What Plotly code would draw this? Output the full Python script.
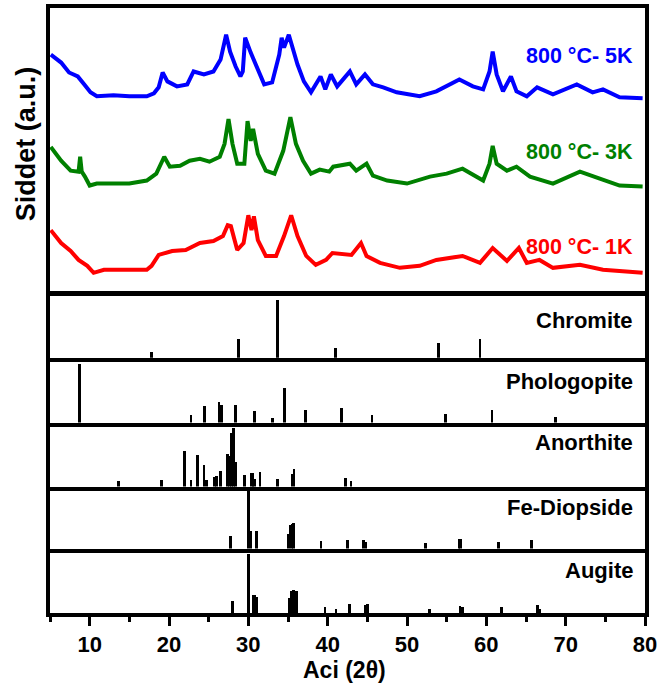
import plotly.graph_objects as go

# ---------------- XRD patterns (arbitrary units) ----------------
blue_x = [5.1, 6.4, 7.4, 8.5, 9.3, 10.1, 10.9, 13.0, 15.0, 17.2, 18.1, 18.7, 19.2, 19.8, 21.0, 22.3, 23.1,
          24.4, 25.6, 26.5, 27.2, 27.7, 28.4, 29.0, 29.3, 29.6, 30.3, 30.9, 32.0, 33.0, 33.9, 34.2, 34.5,
          35.1, 35.6, 36.2, 37.0, 37.9, 39.1, 39.7, 40.4, 41.2, 42.8, 43.6, 44.7, 45.7, 47.0, 48.7, 51.6,
          53.7, 56.6, 58.3, 59.6, 60.4, 60.8, 61.3, 62.1, 63.1, 63.8, 65.1, 66.4, 68.4, 71.4, 73.4, 74.7,
          76.8, 79.7]
blue_y = [238, 230, 220, 216, 208, 200, 196, 197, 196, 196, 199, 205, 220, 211, 206, 208, 221,
          218, 221, 233, 258, 241, 226, 216, 221, 255, 240, 228, 208, 210, 238, 255, 245,
          258, 245, 228, 211, 200, 216, 203, 218, 206, 221, 208, 218, 208, 205, 200, 196,
          201, 213, 206, 203, 221, 241, 218, 201, 216, 201, 196, 205, 198, 208, 200, 203,
          195, 194]

green_x = [5.1, 6.4, 7.6, 8.6, 8.8, 9.0, 9.4, 10.0, 10.9, 13.0, 15.0, 17.2, 18.4, 19.4, 20.1, 21.4, 22.6,
           23.9, 25.1, 26.4, 27.0, 27.5, 28.0, 28.6, 29.5, 29.9, 30.3, 30.6, 31.2, 32.2, 33.3, 34.4,
           35.3, 36.0, 36.9, 37.9, 39.0, 40.2, 40.7, 42.8, 43.6, 44.9, 45.7, 47.5, 50.0, 52.9, 55.0,
           57.0, 59.6, 60.4, 60.8, 61.3, 62.6, 63.8, 65.5, 68.4, 71.8, 74.3, 76.8, 79.7]
green_y = [145, 131, 121, 120, 135, 120, 115, 106, 108, 108, 108, 111, 118, 135, 125, 126, 131,
           133, 130, 135, 148, 173, 148, 128, 128, 171, 151, 163, 138, 121, 118, 141,
           175, 148, 131, 118, 122, 120, 125, 128, 121, 128, 116, 111, 108, 115, 118,
           123, 111, 128, 146, 128, 121, 125, 115, 108, 120, 113, 106, 105]

red_x = [5.1, 6.4, 7.6, 8.6, 9.7, 10.5, 11.8, 14.0, 17.2, 17.8, 18.7, 20.4, 22.1, 23.9, 25.6, 26.8, 27.4,
         27.8, 28.6, 29.4, 30.0, 30.4, 30.7, 31.2, 32.2, 33.5, 34.5, 35.4, 36.2, 37.3, 38.5, 39.8,
         40.6, 43.0, 44.2, 44.9, 46.6, 49.1, 51.6, 53.7, 57.0, 59.2, 60.8, 62.6, 64.1, 65.1, 66.7,
         68.4, 71.8, 74.7, 79.7]
red_y = [61, 48, 40, 31, 25, 18, 21, 21, 21, 25, 36, 40, 41, 48, 50, 55, 66,
         65, 41, 48, 76, 61, 75, 51, 35, 35, 55, 76, 55, 35, 26, 31,
         38, 36, 48, 35, 28, 23, 25, 31, 35, 28, 43, 30, 43, 28, 31,
         23, 26, 21, 18]

pattern_labels = ["800 °C- 5K", "800 °C- 3K", "800 °C- 1K"]
pattern_colors = ["#0000FF", "#008000", "#FF0000"]
label_y = [237, 140, 44]

# ---------------- Reference stick patterns (relative intensity) ----------------
chromite_x = [17.8, 28.8, 33.7, 41.0, 54.0, 59.2]
chromite_i = [10.5, 32, 100, 17.5, 26, 32]

phlogopite_x = [8.75, 22.76, 24.45, 26.29, 26.59, 28.43, 30.73, 33.07, 34.51, 37.16, 41.74, 45.58,
                54.84, 60.72, 68.74]
phlogopite_i = [100, 12.6, 28, 35.4, 30.9, 30.9, 20, 9.1, 60, 21.1, 25.1, 12.6, 15.4, 22.3, 9.7]

anorthite_x = [13.64, 19.02, 21.96, 22.76, 23.60, 24.40, 24.70, 25.74, 25.94, 26.49, 27.34, 27.59,
               27.89, 28.09, 28.39, 29.48, 30.38, 30.58, 30.73, 31.48, 33.67, 35.51, 35.76, 42.29, 42.94]
anorthite_i = [10.3, 12.6, 60.6, 11.4, 53.7, 37.1, 12.6, 17.1, 18.3, 26.9, 55.4, 52.6,
               91.4, 100, 42.9, 21.1, 24, 24, 14.3, 25.1, 13.7, 21.7, 29.7, 15.4, 9.7]

diopside_x = [27.74, 29.98, 30.33, 30.98, 35.01, 35.26, 35.51, 35.71, 39.15, 42.49, 44.53, 44.83,
              52.35, 56.54, 56.74, 61.57, 65.65]
diopside_i = [21.1, 100, 29.7, 29.7, 25.7, 39.4, 42.3, 44, 12.6, 14.3, 14.3, 10.9,
              9.7, 16.6, 17.1, 11.4, 14.3]

augite_x = [27.99, 30.03, 30.63, 30.83, 31.08, 35.21, 35.41, 35.66, 36.11, 39.65, 41.04, 42.74,
            44.78, 44.98, 52.85, 56.69, 56.99, 61.87, 66.45, 66.75]
augite_i = [20.6, 100, 31.2, 30, 28.2, 26.5, 38.2, 39.4, 38.2, 10, 7.1, 15.9,
            13.5, 15.9, 7.1, 11.8, 10.6, 10, 13.5, 7.1]

phase_names = ["Chromite", "Phologopite", "Anorthite", "Fe-Diopside", "Augite"]
phase_x = [chromite_x, phlogopite_x, anorthite_x, diopside_x, augite_x]
phase_i = [chromite_i, phlogopite_i, anorthite_i, diopside_i, augite_i]
phase_ymax = [107, 110, 108.5, 104, 107.5]
phase_label_pos = [0.60, 0.63, 0.69, 0.66, 0.66]

x_ticks = [10, 20, 30, 40, 50, 60, 70, 80]

# ---------------- Layout geometry ----------------
domains = [[0.5328, 1.0], [0.4221, 0.5246], [0.3148, 0.4221], [0.2090, 0.3148],
           [0.1066, 0.2090], [0.0, 0.1066]]

FONT = "Liberation Sans, Arial, sans-serif"
fig = go.Figure()

for xs, ys, c in [(blue_x, blue_y, pattern_colors[0]), (green_x, green_y, pattern_colors[1]),
                  (red_x, red_y, pattern_colors[2])]:
    fig.add_trace(go.Scatter(x=xs, y=ys, mode="lines", line=dict(color=c, width=4),
                             xaxis="x", yaxis="y", showlegend=False, hoverinfo="skip"))

for k, (px, pi) in enumerate(zip(phase_x, phase_i)):
    n = k + 2
    fig.add_trace(go.Bar(x=px, y=pi, width=0.35, marker=dict(color="black", line=dict(width=0)),
                         xaxis=f"x{n}", yaxis=f"y{n}", showlegend=False, hoverinfo="skip"))

LW = 3.5
axis_common = dict(range=[5, 80], showline=True, linewidth=LW, linecolor="black",
                   showgrid=False, zeroline=False)
layout = dict(
    width=661, height=689,
    margin=dict(l=50, r=14, t=4, b=76),
    paper_bgcolor="white", plot_bgcolor="white",
    font=dict(family=FONT, color="black"),
    bargap=0,
)
layout["xaxis"] = dict(**axis_common, mirror=True, anchor="y", showticklabels=False, ticks="")
layout["yaxis"] = dict(domain=domains[0], range=[0, 285], showline=True, linewidth=LW,
                       linecolor="black", mirror=True, showgrid=False, zeroline=False,
                       showticklabels=False, ticks="", anchor="x")
for k in range(5):
    n = k + 2
    xa = dict(**axis_common, anchor=f"y{n}", matches="x", mirror=(n == 2))
    if n == 6:
        xa.update(ticks="outside", ticklen=9, tickwidth=3, tickcolor="black",
                  tickvals=x_ticks, ticktext=[f"<b>{v}</b>" for v in x_ticks],
                  tickfont=dict(size=22, family=FONT, color="black"),
                  minor=dict(ticks="outside", ticklen=5, tickwidth=3, tickcolor="black",
                             tickvals=[5, 15, 25, 35, 45, 55, 65, 75]))
    else:
        xa.update(showticklabels=False, ticks="")
    layout[f"xaxis{n}"] = xa
    layout[f"yaxis{n}"] = dict(domain=domains[n - 1], range=[0, phase_ymax[k]], showline=True,
                               linewidth=LW, linecolor="black", mirror=True, showgrid=False,
                               zeroline=False, showticklabels=False, ticks="", anchor=f"x{n}")

annotations = []
for lab, c, yv in zip(pattern_labels, pattern_colors, label_y):
    annotations.append(dict(x=78.7, y=yv, xref="x", yref="y", text=f"<b>{lab}</b>",
                            showarrow=False, xanchor="right", yanchor="middle",
                            font=dict(size=21.5, color=c, family=FONT)))
for k, name in enumerate(phase_names):
    n = k + 2
    annotations.append(dict(x=78.7, y=phase_label_pos[k], xref=f"x{n}", yref=f"y{n} domain",
                            text=f"<b>{name}</b>", showarrow=False, xanchor="right",
                            yanchor="middle", font=dict(size=22, color="black", family=FONT)))
annotations.append(dict(x=-0.04, y=0.775, xref="paper", yref="paper", text="<b>Siddet (a.u.)</b>",
                        textangle=-90, showarrow=False, xanchor="center", yanchor="middle",
                        font=dict(size=27, color="black", family=FONT)))
annotations.append(dict(x=0.495, y=-0.095, xref="paper", yref="paper", text="<b>Aci (2θ)</b>",
                        showarrow=False, xanchor="center", yanchor="middle",
                        font=dict(size=23, color="black", family=FONT)))
layout["annotations"] = annotations

fig.update_layout(**layout)
fig.write_html("out.html", config={"displayModeBar": False},
               post_script="document.body.style.margin='0';")
